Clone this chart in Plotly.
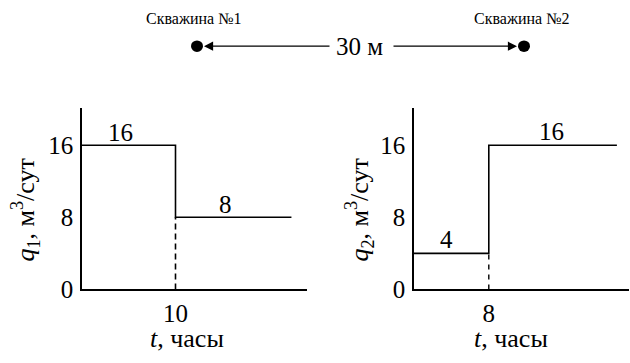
import plotly.graph_objects as go

# Well 1 flow rate schedule (hours, m3/day)
t1 = [0, 10, 22.4]
q1 = [16, 8, 8]
t1_switch = 10

# Well 2 flow rate schedule (hours, m3/day)
t2 = [0, 8, 21.7]
q2 = [4, 16, 16]
t2_switch = 8

y_ticks = [0, 8, 16]
well_names = ["Скважина №1", "Скважина №2"]
distance_label = "30 м"

# label x-positions (hours) for the step values
q1_label_t = [4.1, 15.3]
q2_label_t = [3.5, 14.7]

W, H = 630, 363
FONT = "Liberation Serif"


def px(x):
    return x / W


def py(y):
    return 1 - y / H


fig = go.Figure()

line = dict(color="black", width=1.6)

# step curves
fig.add_trace(go.Scatter(x=t1, y=q1, mode="lines", line=line, line_shape="hv",
                         xaxis="x", yaxis="y", hoverinfo="skip"))
fig.add_trace(go.Scatter(x=t2, y=q2, mode="lines", line=line, line_shape="hv",
                         xaxis="x2", yaxis="y2", hoverinfo="skip"))
# dashed drops to the time axis
fig.add_trace(go.Scatter(x=[t1_switch, t1_switch], y=[0, q1[1]], mode="lines",
                         line=dict(color="black", width=1.6, dash="6px,4px"),
                         xaxis="x", yaxis="y", hoverinfo="skip"))
fig.add_trace(go.Scatter(x=[t2_switch, t2_switch], y=[0, q2[0]], mode="lines",
                         line=dict(color="black", width=1.4, dash="5px,5px"),
                         xaxis="x2", yaxis="y2", hoverinfo="skip"))

tick_font = dict(family=FONT, size=25, color="black")
title_font = dict(family=FONT, size=26, color="black")
small = dict(family=FONT, size=16, color="black")


def label(x, y, text, font, xref="paper", yref="paper", **kw):
    return dict(x=x, y=y, xref=xref, yref=yref, text=text, showarrow=False, font=font,
                xanchor="center", yanchor="middle", **kw)


annotations = []
# value labels just above each level
for tx, qv in zip(q1_label_t, [q1[0], q1[1]]):
    annotations.append(label(tx, qv, str(qv), tick_font, "x", "y", yshift=13))
for tx, qv in zip(q2_label_t, [q2[0], q2[1]]):
    annotations.append(label(tx, qv, str(qv), tick_font, "x2", "y2", yshift=14))

# axis titles
annotations += [
    label(px(187), py(352), "<i>t</i>, часы", title_font),
    label(px(511), py(352), "<i>t</i>, часы", title_font),
    label(px(25), py(219), "<i>q</i><sub>1</sub>, м<sup>3</sup>/сут", title_font, textangle=-90),
    label(px(359), py(219), "<i>q</i><sub>2</sub>, м<sup>3</sup>/сут", title_font, textangle=-90),
]

# well names and the distance arrow between them
annotations += [
    label(px(193), py(19), well_names[0], small),
    label(px(521), py(19), well_names[1], small),
    label(px(359), py(48), distance_label, tick_font),
    dict(x=px(204), y=py(48), ax=127, ay=0, xref="paper", yref="paper",
         axref="pixel", ayref="pixel", text="", showarrow=True, arrowhead=2,
         arrowsize=1.4, arrowwidth=1.3, arrowcolor="black"),
    dict(x=px(517), y=py(48), ax=-125, ay=0, xref="paper", yref="paper",
         axref="pixel", ayref="pixel", text="", showarrow=True, arrowhead=2,
         arrowsize=1.4, arrowwidth=1.3, arrowcolor="black"),
]

shapes = [
    dict(type="circle", xref="paper", yref="paper", x0=px(191), x1=px(203), y0=py(54), y1=py(42),
         fillcolor="black", line=dict(color="black", width=0)),
    dict(type="circle", xref="paper", yref="paper", x0=px(518), x1=px(530), y0=py(54), y1=py(42),
         fillcolor="black", line=dict(color="black", width=0)),
]

axis_common = dict(showline=True, linecolor="black", linewidth=1.6, showgrid=False,
                   zeroline=False, ticks="", tickfont=tick_font, fixedrange=True)

x1_left, x1_right = 82, 307
x2_left, x2_right = 414, 629
y_bottom, y_top = 301, 112
px_per_hour = 9.35
px_per_q = 75 / 8

fig.update_layout(
    width=W, height=H, margin=dict(l=0, r=0, t=0, b=0),
    plot_bgcolor="white", paper_bgcolor="white", showlegend=False,
    font=dict(family=FONT, color="black"),
    xaxis=dict(axis_common, domain=[px(x1_left), px(x1_right)], ticklabelstandoff=1,
               range=[0, (x1_right - x1_left) / px_per_hour], tickvals=[t1_switch], anchor="y"),
    yaxis=dict(axis_common, domain=[py(y_bottom), py(y_top)], ticklabelstandoff=2,
               range=[0, (y_bottom - y_top) / px_per_q], tickvals=y_ticks, anchor="x"),
    xaxis2=dict(axis_common, domain=[px(x2_left), px(x2_right)], ticklabelstandoff=1,
                range=[0, (x2_right - x2_left) / px_per_hour], tickvals=[t2_switch], anchor="y2"),
    yaxis2=dict(axis_common, domain=[py(y_bottom), py(y_top)], ticklabelstandoff=2,
                range=[0, (y_bottom - y_top) / px_per_q], tickvals=y_ticks, anchor="x2"),
    annotations=annotations, shapes=shapes,
)

fig.write_html("out.html", config={"displayModeBar": False})
